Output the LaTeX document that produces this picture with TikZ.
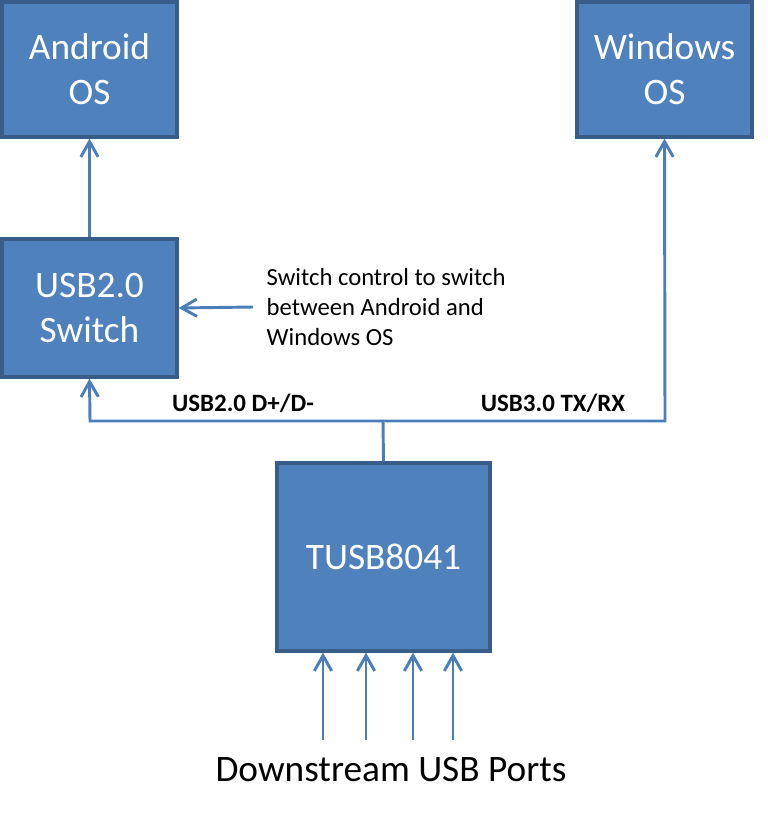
\documentclass[tikz,border=0pt]{standalone}
\usepackage{fontspec}
\setmainfont{Carlito}
\usetikzlibrary{arrows.meta}
\definecolor{boxfill}{HTML}{4F81BD}
\definecolor{boxline}{HTML}{385D8A}
\definecolor{wire}{HTML}{4A7EBB}
\tikzset{
  block/.style={draw=boxline, line width=2.4pt, fill=boxfill, text=white, align=center,
    font=\fontsize{28}{34}\selectfont, inner sep=0pt},
  conn/.style={draw=wire, line width=2.2pt, -{Straight Barb[length=11.5pt,width=13pt,line width=2.2pt]}},
  wirel/.style={draw=wire, line width=2.2pt},
  lbl/.style={font=\fontsize{18.7}{22}\selectfont\bfseries, anchor=base},
}
\begin{document}
\begin{tikzpicture}[x=0.75pt,y=-0.75pt]
\useasboundingbox (0,0) rectangle (767,813);
\node[block, minimum width=131.25pt, minimum height=101.25pt] (android) at (89.5,69.5) {Android\\OS};
\node[block, minimum width=131.25pt, minimum height=101.25pt] (windows) at (664.5,69.5) {Windows\\OS};
\node[block, minimum width=131.25pt, minimum height=103.5pt] (switch) at (89.5,308) {USB2.0\\Switch};
\node[block, minimum width=159.75pt, minimum height=141pt] (tusb) at (383.5,557) {TUSB8041};
\coordinate (junc) at (383,421);
\coordinate (jl) at (90,421);
\coordinate (jr) at (665,421);
\draw[wirel] (tusb.north) -- (junc);
\draw[conn] (junc) -- (jl) -- (switch.south);
\draw[conn] (junc) -- (jr) -- (windows.south);
\draw[conn] (switch.north) -- (android.south);
\node[align=left, anchor=west, font=\fontsize{18.5}{22.5}\selectfont] (ctrl) at (262,307) {Switch control to switch\\between Android and\\Windows OS};
\coordinate (ctrlstart) at (253,307);
\draw[conn] (ctrlstart) -- (switch.east);
\node[lbl] (l2) at (243,411) {USB2.0 D+/D-};
\node[lbl] (l3) at (553,411) {USB3.0 TX/RX};
\node[font=\fontsize{28}{34}\selectfont, anchor=base] (ds) at (391,781) {Downstream USB Ports};
\foreach \x/\n in {323/a,366/b,413/c,453/d}{
  \coordinate (p\n) at (\x,740);
  \draw[conn] (p\n) -- (p\n |- tusb.south);
}
\end{tikzpicture}
\end{document}
